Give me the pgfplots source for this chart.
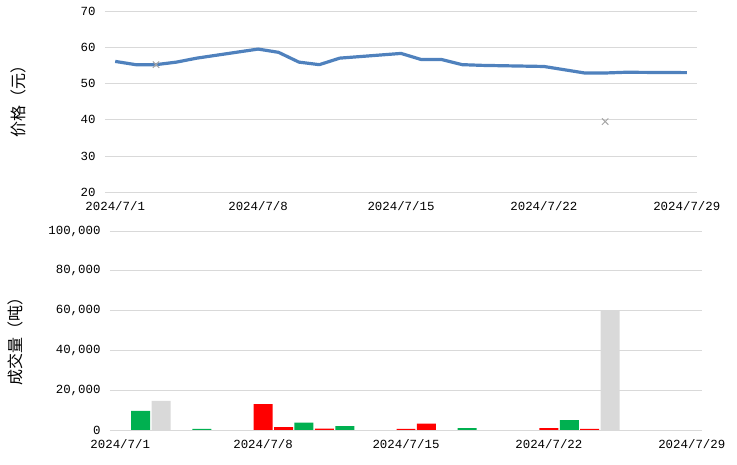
\documentclass[border=0pt]{standalone}
\usepackage{pgfplots}
\pgfplotsset{compat=1.18}
\usepackage{fontspec}
\newfontfamily\tickfont{Liberation Mono}
\newfontfamily\cjk{Noto Sans CJK SC}
\definecolor{lineblue}{HTML}{4F81BD}
\definecolor{grid}{HTML}{D9D9D9}
\definecolor{bargreen}{HTML}{00B050}
\definecolor{barred}{HTML}{FF0000}
\definecolor{bargray}{HTML}{D9D9D9}
\definecolor{markgray}{HTML}{A5A5A5}
\pgfplotsset{
  common/.style={
    scale only axis, width=592pt,
    xmin=0.5, xmax=29.5,
    axis line style={draw=none},
    major tick length=0pt,
    ymajorgrids, grid style={color=grid, line width=0.9pt},
    xtick={1,8,15,22,29},
    xticklabels={2024/7/1,2024/7/8,2024/7/15,2024/7/22,2024/7/29},
    scaled y ticks=false,
    /pgf/number format/assume math mode=true,
    ticklabel style={font=\tickfont\fontsize{12.4}{12.4}\selectfont},
    yticklabel style={anchor=east, xshift=-6pt},
    xticklabel style={anchor=center, yshift=-14pt},
    ylabel style={font=\cjk\fontsize{16}{16}\selectfont, anchor=center},
  }
}
\begin{document}
\begin{tikzpicture}
\useasboundingbox (0pt,0pt) rectangle (737pt,465pt);
\begin{axis}[common, at={(105pt,272.7pt)}, anchor=south west, height=181.3pt,
  ymin=20, ymax=70, ytick={20,30,40,50,60,70},
  ylabel={价格（元）},
  ylabel style={at={(axis description cs:-0.147,0.523)}}]
\addplot[lineblue, line width=3.2pt, line join=round] coordinates {
(1,56.1) (2,55.2) (3,55.2) (4,55.9) (5,57.0) (8,59.5) (9,58.6) (10,55.9)
(11,55.2) (12,57.0) (15,58.3) (16,56.6) (17,56.6) (18,55.2) (19,55.0)
(22,54.7) (23,53.8) (24,52.9) (25,52.9) (26,53.1) (29,53.0)};
\addplot[only marks, mark=x, mark size=4.5pt, markgray, line width=1pt] coordinates {
(3,55.2) (25,39.5)};
\end{axis}
\begin{axis}[common, at={(110pt,35pt)}, anchor=south west, height=199pt,
  ymin=0, ymax=100000, ytick={0,20000,40000,60000,80000,100000},
  yticklabels={0,{20,000},{40,000},{60,000},{80,000},{100,000}},
  ylabel={成交量（吨）},
  ylabel style={at={(axis description cs:-0.159,0.467)}},
  ybar=0pt, bar width=0.93]
\addplot[fill=bargreen, draw=none, bar shift=0pt] coordinates {
(2,9550) (5,500) (10,3700) (12,2000) (18,1000) (23,5000)};
\addplot[fill=bargray, draw=none, bar shift=0pt] coordinates {
(3,14600) (25,60000)};
\addplot[fill=barred, draw=none, bar shift=0pt] coordinates {
(8,13000) (9,1500) (11,650) (15,500) (16,3200) (22,1000) (24,500)};
\end{axis}
\end{tikzpicture}
\end{document}
